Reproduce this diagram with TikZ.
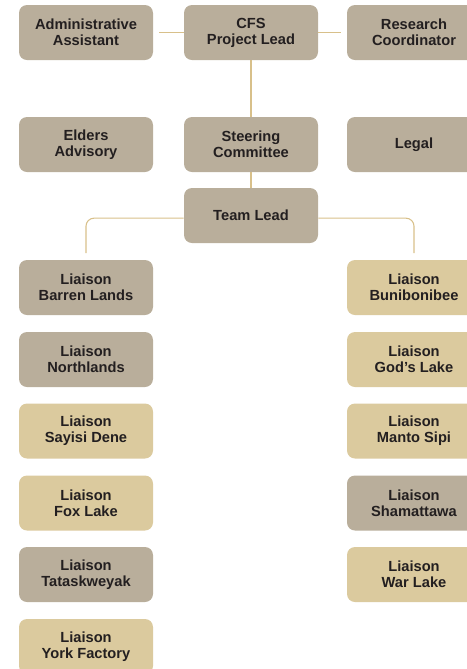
\documentclass[tikz,border=0pt]{standalone}
\usepackage{fontspec}
\setmainfont{Liberation Sans}
\definecolor{stone}{HTML}{B9AE9B}
\definecolor{sand}{HTML}{DBCA9E}
\definecolor{gold}{HTML}{D8C08A}
\definecolor{ink}{HTML}{231F20}
\begin{document}
\begin{tikzpicture}[x=0.75pt, y=-0.75pt,
    box/.style={rounded corners=6pt, minimum width=100.5pt, minimum height=41.25pt,
      align=center, inner sep=0pt, text=ink, font=\fontsize{11}{12}\selectfont\bfseries},
    grey/.style={box, fill=stone},
    tan/.style={box, fill=sand},
    link/.style={draw=gold, line width=0.8pt}]
       \useasboundingbox (0,0) rectangle (467,669);
       % top rows
       \node[grey] (admin) at (86,32.5) {Administrative\\Assistant};
       \node[grey] (cfs) at (251,32.5) {CFS\\Project Lead};
       \node[grey] (research) at (414,32.5) {Research\\Coordinator};
       \node[grey] (elders) at (86,144.5) {Elders\\Advisory};
       \node[grey] (steer) at (251,144.5) {Steering\\Committee};
       \node[grey] (legal) at (414,144.5) {Legal};
       \node[grey] (team) at (251,215.5) {Team Lead};
       % left liaisons
       \node[grey] (barren) at (86,287.5) {Liaison\\Barren Lands};
       \node[grey] (north) at (86,359.5) {Liaison\\Northlands};
       \node[tan] (sayisi) at (86,431) {Liaison\\Sayisi Dene};
       \node[tan] (fox) at (86,503) {Liaison\\Fox Lake};
       \node[grey] (tatask) at (86,574.5) {Liaison\\Tataskweyak};
       \node[tan] (york) at (86,646.5) {Liaison\\York Factory};
       % right liaisons
       \node[tan] (buni) at (414,287.5) {Liaison\\Bunibonibee};
       \node[tan] (gods) at (414,359.5) {Liaison\\God’s Lake};
       \node[tan] (manto) at (414,431) {Liaison\\Manto Sipi};
       \node[grey] (shamat) at (414,503) {Liaison\\Shamattawa};
       \node[tan] (warlake) at (414,574.5) {Liaison\\War Lake};
       % links
       \draw[link, shorten <=4.5pt] (admin) -- (cfs);
       \draw[link, shorten >=4pt] (cfs) -- (research);
       \draw[link] (cfs) -- (steer);
       \draw[link] (steer) -- (team);
       \draw[link, rounded corners=6pt, shorten >=5pt] ([yshift=-2pt]team.west) -| (barren.north);
       \draw[link, rounded corners=6pt, shorten >=5pt] ([yshift=-2pt]team.east) -| (buni.north);
\end{tikzpicture}
\end{document}
